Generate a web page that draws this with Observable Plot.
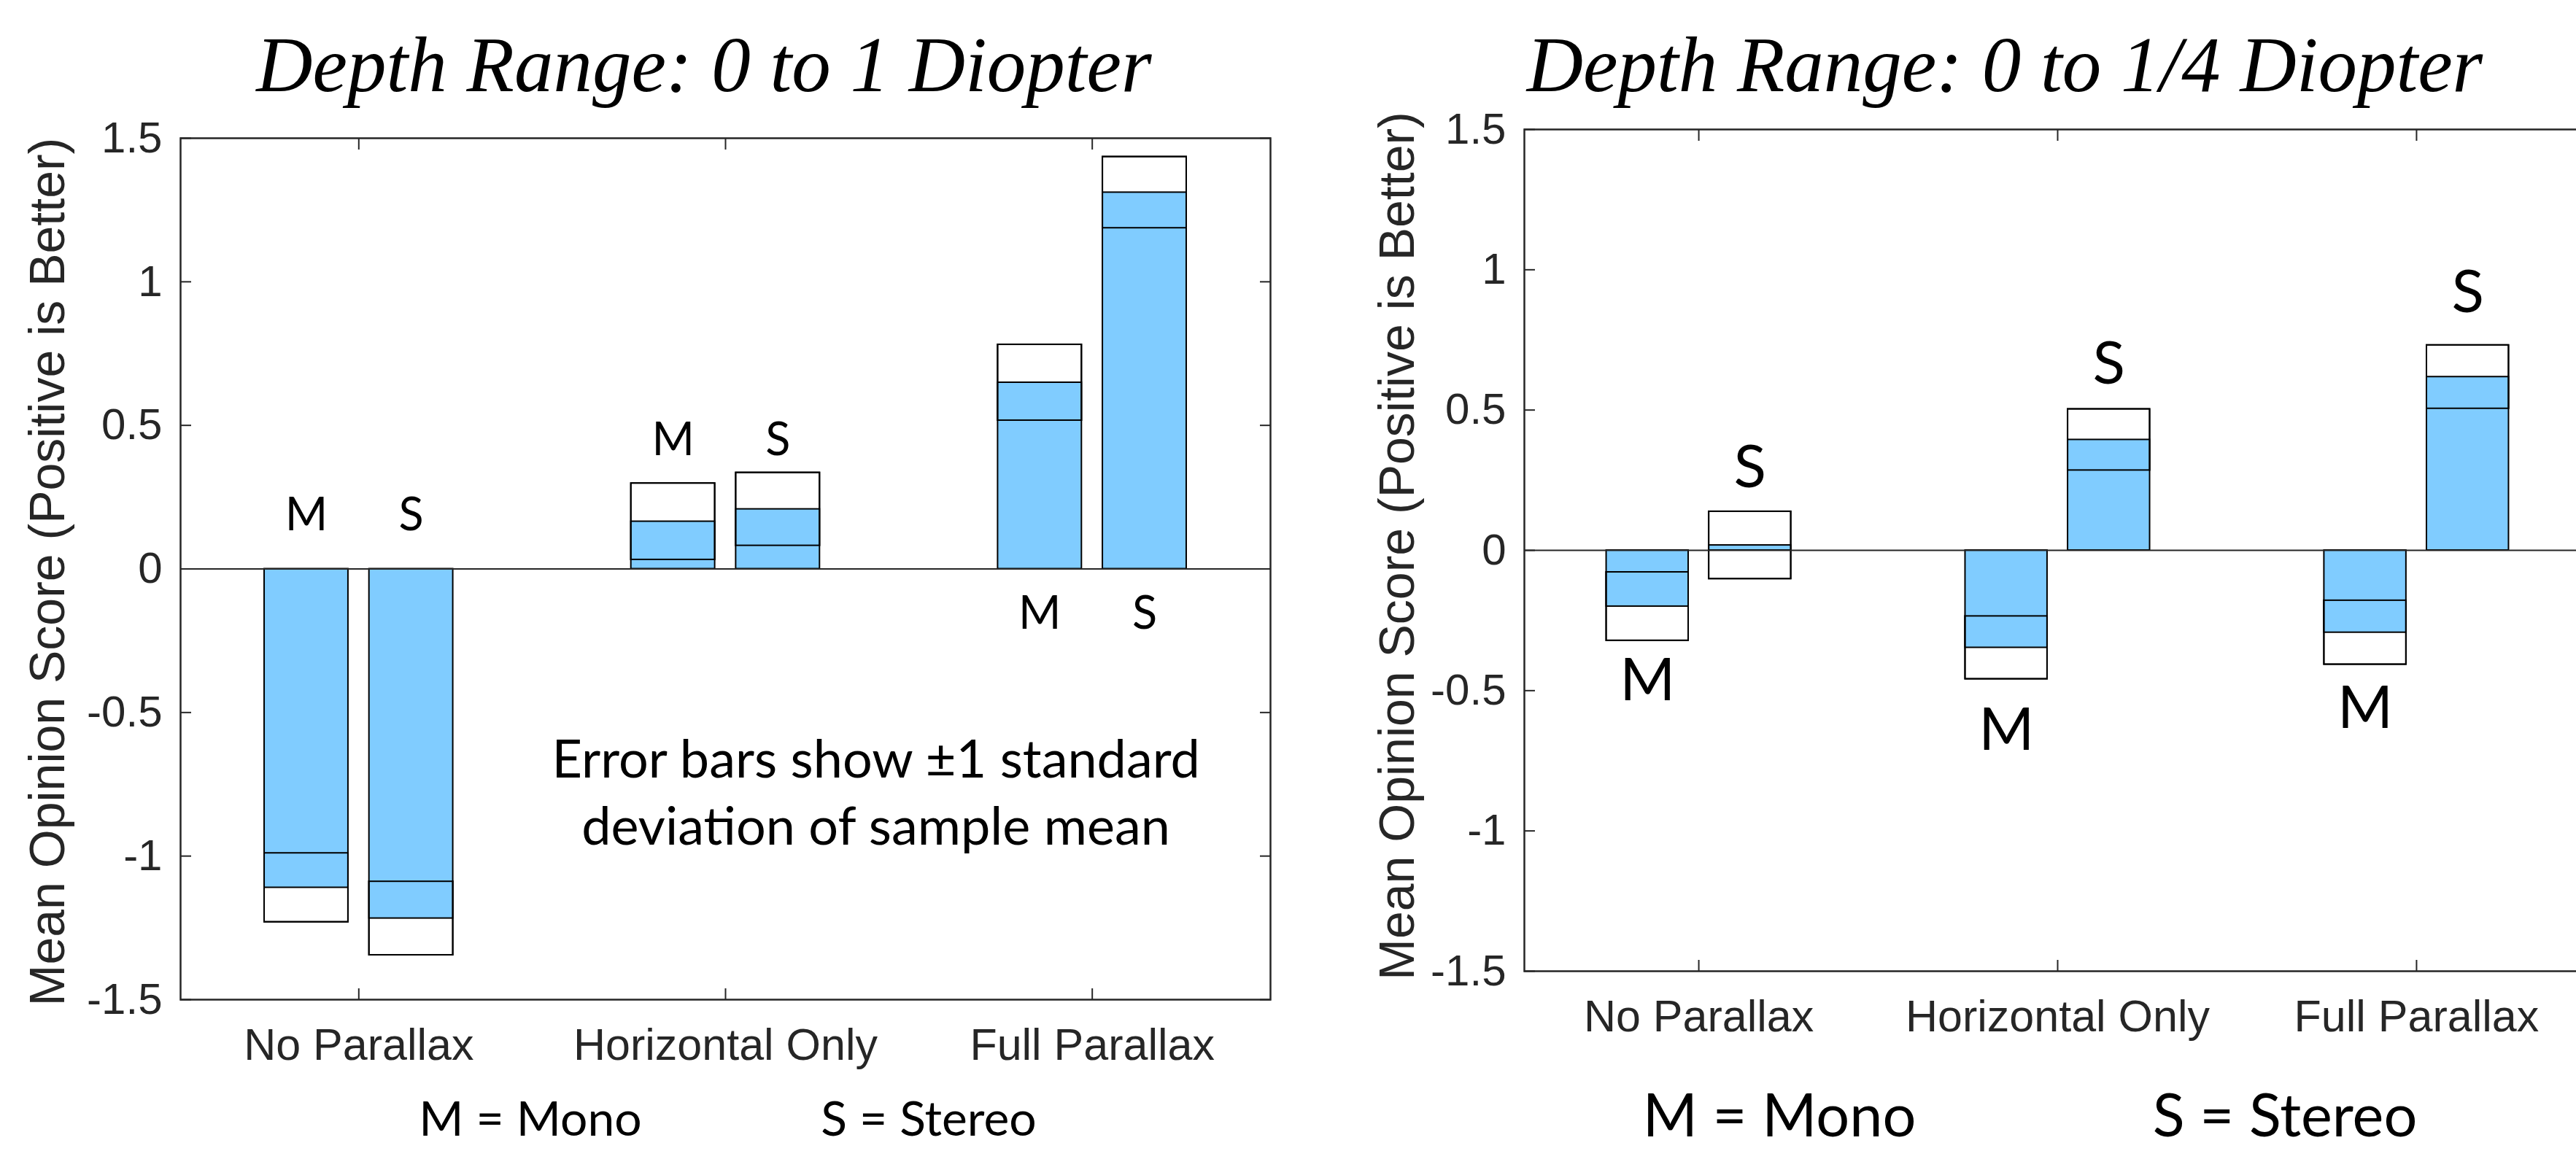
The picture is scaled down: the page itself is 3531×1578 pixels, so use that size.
<!DOCTYPE html>
<html><head><meta charset="utf-8">
<script src="https://cdn.jsdelivr.net/npm/d3@7"></script>
<script src="https://cdn.jsdelivr.net/npm/@observablehq/plot@0.6"></script>
<style>
html,body{margin:0;padding:0;background:#fff;width:3531px;height:1578px;overflow:hidden;}
#wrap{position:relative;width:3531px;height:1578px;overflow:hidden;background:#fff;}
.abs{position:absolute;}
.title{font-family:"Liberation Serif",serif;font-style:italic;font-size:107px;line-height:107px;color:#000;white-space:nowrap;text-align:center;width:1400px;}
.legend{font-family:Lato,sans-serif;color:#000;white-space:nowrap;text-align:center;width:600px;}
</style></head><body><div id="wrap"></div>
<script>
// ---- data ----
const categories = ["No Parallax", "Horizontal Only", "Full Parallax"];
const seriesNames = ["M", "S"];
const yTicks = [-1.5, -1, -0.5, 0, 0.5, 1, 1.5];
const yTickLabels = ["-1.5", "-1", "-0.5", "0", "0.5", "1", "1.5"];
const yLabel = "Mean Opinion Score (Positive is Better)";
const titles = ["Depth Range: 0 to 1 Diopter", "Depth Range: 0 to 1/4 Diopter"];
const legendTexts = ["M = Mono", "S = Stereo"];
const noteText = "Error bars show \u00B11 standard\ndeviation of sample mean";
const noteX = 2.41, noteY = -0.96;

// Left panel (0 to 1 Diopter)
const leftMonoMean = [-1.110, 0.165, 0.649];
const leftMonoSd = [0.120, 0.133, 0.132];
const leftStereoMean = [-1.217, 0.208, 1.311];
const leftStereoSd = [0.128, 0.127, 0.124];
const leftMonoLabelY = [0.134, 0.396, -0.209];
const leftStereoLabelY = [0.134, 0.396, -0.209];

// Right panel (0 to 1/4 Diopter)
const rightMonoMean = [-0.200, -0.347, -0.293];
const rightMonoSd = [0.122, 0.112, 0.114];
const rightStereoMean = [0.018, 0.394, 0.618];
const rightStereoSd = [0.120, 0.109, 0.113];
const rightMonoLabelY = [-0.535, -0.712, -0.632];
const rightStereoLabelY = [0.224, 0.595, 0.850];

// ---- layout constants ----
const groupOffset = 0.1429, barHalf = 0.1143;
const BLUE = "#80CCFF", AXIS = "#262626";

function buildRows(mMean, mSd, sMean, sSd, mLab, sLab) {
  const rows = [];
  categories.forEach((c, i) => {
    rows.push({cat: c, idx: i + 1, series: seriesNames[0], off: -groupOffset, mean: mMean[i], sd: mSd[i], labelY: mLab[i]});
    rows.push({cat: c, idx: i + 1, series: seriesNames[1], off: groupOffset, mean: sMean[i], sd: sSd[i], labelY: sLab[i]});
  });
  return rows;
}

function panel(rows, o) {
  const bx1 = d => d.idx + d.off - barHalf, bx2 = d => d.idx + d.off + barHalf;
  const marks = [
    Plot.rect(rows, {x1: bx1, x2: bx2, y1: d => d.mean - d.sd, y2: d => d.mean + d.sd, fill: "white", stroke: "black", strokeWidth: 2}),
    Plot.rect(rows, {x1: bx1, x2: bx2, y1: () => 0, y2: d => d.mean, fill: BLUE, stroke: "black", strokeWidth: 2}),
    Plot.rect(rows, {x1: bx1, x2: bx2, y1: d => d.mean - d.sd, y2: d => d.mean + d.sd, fill: "none", stroke: "black", strokeWidth: 2}),
    Plot.ruleY([0], {stroke: AXIS, strokeWidth: 2}),
    Plot.frame({stroke: AXIS, strokeWidth: 2.5}),
    Plot.axisY({anchor: "left", ticks: yTicks, tickFormat: d => yTickLabels[yTicks.indexOf(d)], tickSize: -15, tickPadding: 40, fontSize: 60, label: null, strokeWidth: 2}),
    Plot.axisY({anchor: "right", ticks: yTicks, tickFormat: () => "", tickSize: -15, label: null, strokeWidth: 2}),
    Plot.axisX({anchor: "bottom", ticks: [1, 2, 3], tickFormat: d => categories[d - 1], tickSize: -15, tickPadding: 54, fontSize: 61, label: null, strokeWidth: 2}),
    Plot.axisX({anchor: "top", ticks: [1, 2, 3], tickFormat: () => "", tickSize: -15, label: null, strokeWidth: 2}),
    Plot.text(rows, {x: d => d.idx + d.off, y: "labelY", text: "series", fontFamily: "Lato", fontSize: o.labelSize, fill: "black", lineAnchor: "bottom"}),
    Plot.text([yLabel], {text: d => d, frameAnchor: "left", textAnchor: "middle", rotate: -90, dx: o.yLabelDx, dy: o.yLabelDy, fontSize: 68, fill: AXIS, lineAnchor: "middle"})
  ];
  if (o.note) marks.push(Plot.text([o.note], {x: () => noteX, y: () => noteY, text: d => d, fontFamily: "Lato", fontSize: 72, lineHeight: 1.27, fill: "black", lineAnchor: "bottom"}));
  return Plot.plot({
    width: o.width, height: o.height,
    marginLeft: o.ml, marginRight: o.mr, marginTop: o.mt, marginBottom: o.mb,
    x: {type: "linear", domain: [0.514, 3.486]},
    y: {type: "linear", domain: [-1.5, 1.5]},
    style: {fontFamily: "'Liberation Sans', Arial, sans-serif", color: AXIS, background: "transparent", overflow: "visible"},
    marks
  });
}

const wrap = document.getElementById("wrap");
function place(el, left, top) { el.classList.add("abs"); el.style.left = left + "px"; el.style.top = top + "px"; wrap.appendChild(el); }

const leftRows = buildRows(leftMonoMean, leftMonoSd, leftStereoMean, leftStereoSd, leftMonoLabelY, leftStereoLabelY);
const rightRows = buildRows(rightMonoMean, rightMonoSd, rightStereoMean, rightStereoSd, rightMonoLabelY, rightStereoLabelY);

const p1 = panel(leftRows, {width: 1780, height: 1500, ml: 247, mr: 39, mt: 189, mb: 130, labelSize: 63, yLabelDx: -181, yLabelDy: 4, note: noteText});
place(p1, 0, 0);
const p2 = panel(rightRows, {width: 1781, height: 1460, ml: 289, mr: 30, mt: 177, mb: 129, labelSize: 82, yLabelDx: -173, yLabelDy: -6});
place(p2, 1800, 0);

function addTitle(text, cx) { const d = document.createElement("div"); d.className = "title"; d.textContent = text; place(d, cx - 700, 36); }
addTitle(titles[0], 965);
addTitle(titles[1], 2748);

function addLegend(text, cx, baseline, size) {
  const d = document.createElement("div"); d.className = "legend"; d.textContent = text;
  d.style.fontSize = size + "px"; d.style.lineHeight = (0.8 * size) + "px";
  place(d, cx - 300, baseline - 0.787 * size);
}
addLegend(legendTexts[0], 727, 1558, 66);
addLegend(legendTexts[1], 1273, 1558, 66);
addLegend(legendTexts[0], 2439, 1559, 81);
addLegend(legendTexts[1], 3132, 1559, 81);
</script></body></html>
